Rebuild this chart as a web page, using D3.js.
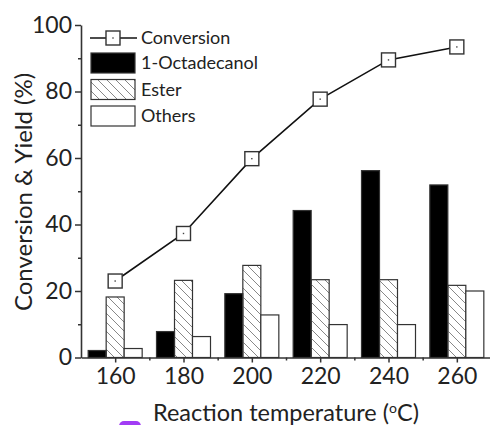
<!DOCTYPE html>
<html>
<head>
<meta charset="utf-8">
<script src="https://cdn.jsdelivr.net/npm/d3@7"></script>
<style>
  body { margin: 0; background: #fff; }
  svg text { font-family: Lato, "Open Sans", sans-serif; fill: #222; }
</style>
</head>
<body>
<svg id="chart" width="490" height="425"></svg>
<script>
var temps = [160, 180, 200, 220, 240, 260];
var conversion = [23.0, 37.3, 59.8, 77.7, 89.5, 93.4];
var octadecanol = [2.1, 7.8, 19.2, 44.2, 56.2, 51.9];
var ester = [18.2, 23.2, 27.7, 23.4, 23.4, 21.7];
var others = [2.7, 6.3, 12.8, 9.9, 9.9, 20.0];
var yTicks = [0, 20, 40, 60, 80, 100];

var svg = d3.select('#chart');

// hatch pattern for ester bars
var defs = svg.append('defs');
defs.append('pattern')
    .attr('id', 'hatch')
    .attr('patternUnits', 'userSpaceOnUse')
    .attr('width', 9).attr('height', 9)
  .append('path')
    .attr('d', 'M-2,-2 L11,11 M-2,7 L2,11 M7,-2 L11,2')
    .attr('stroke', '#888')
    .attr('stroke-width', 1);

var mLeft = 81, mBottom = 357.5, mTop = 25, mRight = 491;

var x = d3.scaleLinear().domain([150, 270]).range([mLeft, mRight]);
var y = d3.scaleLinear().domain([0, 100]).range([mBottom, mTop]);

var barW = 18;
var series = [
  {name: '1-Octadecanol', values: octadecanol, fill: '#000', off: -1},
  {name: 'Ester', values: ester, fill: 'url(#hatch)', off: 0},
  {name: 'Others', values: others, fill: '#fff', off: 1}
];

// Bars
series.forEach(function(s) {
  svg.append('g').selectAll('rect')
    .data(s.values)
    .enter().append('rect')
    .attr('x', function(d, i) { return x(temps[i]) + s.off * barW - barW / 2; })
    .attr('y', function(d) { return y(d); })
    .attr('width', barW)
    .attr('height', function(d) { return y(0) - y(d); })
    .attr('fill', s.fill)
    .attr('stroke', '#333')
    .attr('stroke-width', 1.2);
});

// Conversion line
var line = d3.line()
    .x(function(d, i) { return x(temps[i]); })
    .y(function(d) { return y(d); });

svg.append('path')
    .datum(conversion)
    .attr('fill', 'none')
    .attr('stroke', '#111')
    .attr('stroke-width', 1.6)
    .attr('d', line);

var mk = svg.append('g').selectAll('g')
    .data(conversion)
    .enter().append('g')
    .attr('transform', function(d, i) { return 'translate(' + x(temps[i]) + ',' + y(d) + ')'; });
mk.append('rect')
    .attr('x', -7).attr('y', -7).attr('width', 14).attr('height', 14)
    .attr('fill', '#fff').attr('stroke', '#333').attr('stroke-width', 1.4);
mk.append('rect')
    .attr('x', -0.7).attr('y', -0.7).attr('width', 1.4).attr('height', 1.4)
    .attr('fill', '#444');

// Y axis
svg.append('g')
    .attr('transform', 'translate(' + mLeft + ',0)')
    .call(d3.axisLeft(y).tickValues(yTicks).tickSize(6).tickPadding(3).tickSizeOuter(0));
svg.append('g')
    .attr('transform', 'translate(' + mLeft + ',0)')
    .call(d3.axisLeft(y).tickValues([10, 30, 50, 70, 90]).tickSize(3).tickFormat('').tickSizeOuter(0))
    .select('.domain').remove();

// X axis
svg.append('g')
    .attr('transform', 'translate(0,' + mBottom + ')')
    .call(d3.axisBottom(x).tickValues(temps).tickSize(5).tickPadding(5).tickSizeOuter(0));
svg.append('g')
    .attr('transform', 'translate(0,' + mBottom + ')')
    .call(d3.axisBottom(x).tickValues([170, 190, 210, 230, 250]).tickSize(3).tickFormat('').tickSizeOuter(0))
    .select('.domain').remove();

svg.selectAll('.domain').attr('stroke', '#333').attr('stroke-width', 1.6);
svg.selectAll('.tick line').attr('stroke', '#333').attr('stroke-width', 1.5);
svg.selectAll('.tick text').attr('font-size', 23).style('font-family', 'Lato, sans-serif').attr('fill', '#222');

// Axis titles
svg.append('text')
    .attr('transform', 'translate(32,192) rotate(-90)')
    .attr('text-anchor', 'middle')
    .attr('font-size', 24)
    .text('Conversion & Yield (%)');

var xt = svg.append('text')
    .attr('x', 286).attr('y', 421)
    .attr('text-anchor', 'middle')
    .attr('font-size', 23.5)
    .text('Reaction temperature (');
xt.append('tspan').attr('baseline-shift', 'super').attr('font-size', 14).text('o');
xt.append('tspan').text('C)');

// purple mark near bottom
svg.append('rect')
    .attr('x', 119).attr('y', 421).attr('width', 22).attr('height', 12).attr('rx', 5)
    .attr('fill', '#a23cf5');

// Legend
var lg = svg.append('g').attr('font-size', 18);
lg.append('line').attr('x1', 90).attr('x2', 137).attr('y1', 38).attr('y2', 38)
    .attr('stroke', '#111').attr('stroke-width', 1.6);
lg.append('rect').attr('x', 106).attr('y', 31).attr('width', 14).attr('height', 14)
    .attr('fill', '#fff').attr('stroke', '#333').attr('stroke-width', 1.4);
lg.append('rect').attr('x', 112.3).attr('y', 37.3).attr('width', 1.4).attr('height', 1.4).attr('fill', '#444');
lg.append('text').attr('x', 141).attr('y', 44).text('Conversion');

series.forEach(function(s, i) {
  var yy = 53 + i * 26.5;
  lg.append('rect').attr('x', 91).attr('y', yy).attr('width', 44).attr('height', 20)
      .attr('fill', s.fill).attr('stroke', '#333').attr('stroke-width', 1.2);
  lg.append('text').attr('x', 141).attr('y', yy + 16).text(s.name);
});
</script>
</body>
</html>
